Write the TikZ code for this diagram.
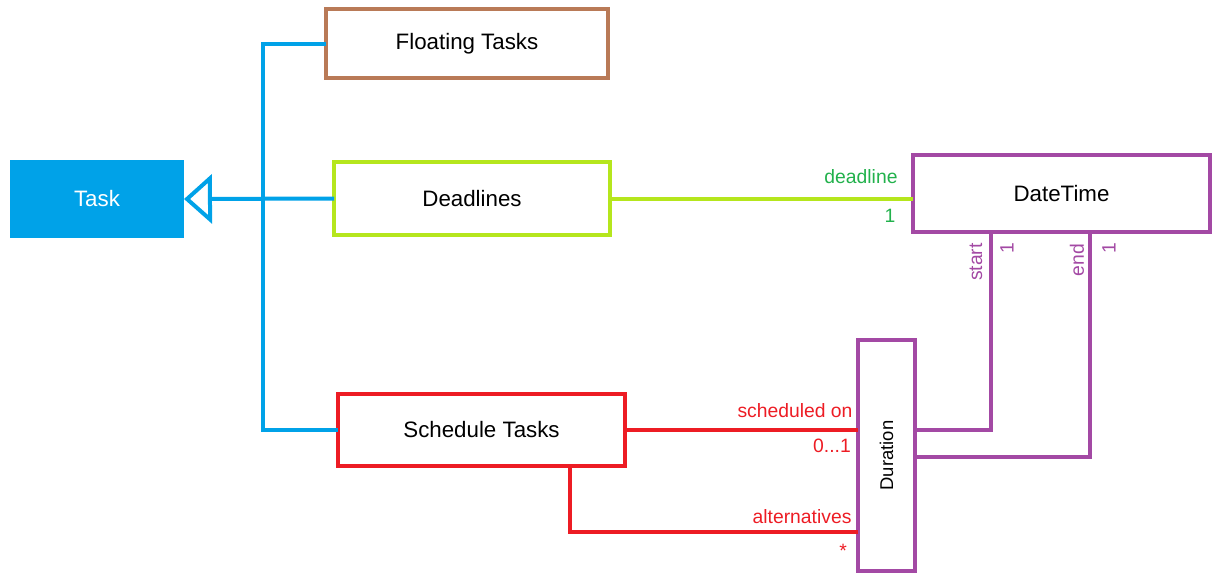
\documentclass[tikz,border=0pt]{standalone}
\usepackage{fontspec}
\setmainfont{Liberation Sans}
\usepackage{graphicx}
\usetikzlibrary{positioning}
\usetikzlibrary{arrows.meta}

\definecolor{taskblue}{RGB}{0,162,232}
\definecolor{floatbrown}{RGB}{185,122,87}
\definecolor{deadlime}{RGB}{181,230,29}
\definecolor{deadgreen}{RGB}{34,177,76}
\definecolor{datepurple}{RGB}{163,73,164}
\definecolor{schedred}{RGB}{237,28,36}

\begin{document}
\begin{tikzpicture}[x=0.02cm, y=-0.02cm,
  box/.style={draw, line width=0.08cm, inner sep=0pt, outer sep=0pt, font=\fontsize{12.7}{15}\selectfont},
  lbl/.style={inner sep=0pt, font=\fontsize{11}{13}\selectfont},
  link/.style={line width=0.08cm}]

\useasboundingbox (0,0) rectangle (1229,583);

% boxes
{
\node[box, draw=none, fill=taskblue, text=white, minimum width=3.48cm, minimum height=1.56cm] (task) at (97,199) {Task};

\node[box, draw=floatbrown, minimum width=5.64cm, minimum height=1.38cm] (floating) at (467,43.5) {Floating Tasks};
\node[box, draw=deadlime, minimum width=5.52cm, minimum height=1.46cm] (deadlines) at (472,198.5) {Deadlines};
\node[box, draw=schedred, minimum width=5.74cm, minimum height=1.44cm] (schedule) at (481.5,430) {Schedule Tasks};

\node[box, draw=datepurple, minimum width=5.94cm, minimum height=1.54cm] (datetime) at (1061.5,193.5) {DateTime};
\node[box, draw=datepurple, minimum width=1.14cm, minimum height=4.62cm, font=\fontsize{10.5}{12}\selectfont] (duration) at (886.5,455.5) {\rotatebox{90}{Duration}};
}

% corners
\coordinate (trunk) at (263,0);
\coordinate (alt) at (570,532);
\coordinate (st) at (991,430);
\coordinate (en) at (1090,457);

% lines
{
\draw[link, taskblue] (floating.west) -- (floating.west -| trunk) -- (schedule.west -| trunk) -- (schedule.west);
\draw[link, taskblue, -{Triangle[open, length=0.56cm, width=0.98cm]}] (deadlines.west) -- (task.east);

\draw[link, deadlime] (deadlines.east) -- (datetime.west |- deadlines.east);

\draw[link, schedred] (schedule.east) -- (duration.west |- schedule.east);
\draw[link, schedred] (schedule.south -| alt) -- (alt) -- (alt -| duration.west);

\draw[link, datepurple] (st |- datetime.south) -- (st) -- (st -| duration.east);
\draw[link, datepurple] (en |- datetime.south) -- (en) -- (en -| duration.east);
}

% labellings
{
\node[lbl, text=deadgreen] (deadname) at (861,177) {deadline};
\node[lbl, text=deadgreen] (deadmult) at (890,216) {1};

\node[lbl, text=schedred] (schedname) at (795,411) {scheduled on};
\node[lbl, text=schedred] (schedmult) at (832,446) {0...1};
\node[lbl, text=schedred] (altname) at (802,517) {alternatives};
\node[lbl, text=schedred] (altmult) at (843,551) {*};

\node[lbl, text=datepurple, rotate=90] (startname) at (976,262) {start};
\node[lbl, text=datepurple, rotate=90] (startmult) at (1007,248) {1};
\node[lbl, text=datepurple, rotate=90] (endname) at (1077,260) {end};
\node[lbl, text=datepurple, rotate=90] (endmult) at (1109,248) {1};
}

\end{tikzpicture}
\end{document}
